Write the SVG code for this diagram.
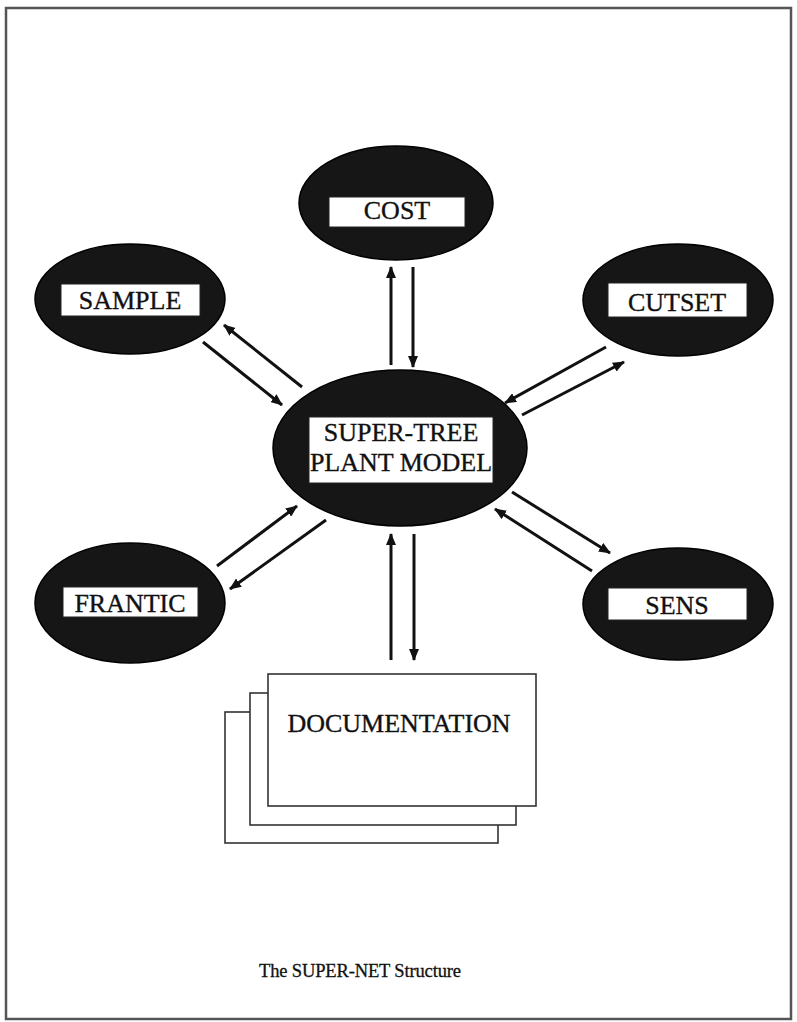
<svg xmlns="http://www.w3.org/2000/svg" width="797" height="1022" viewBox="0 0 797 1022">
  <defs>
    <marker id="head" viewBox="0 0 12 10" refX="11" refY="5" markerWidth="12" markerHeight="10" markerUnits="userSpaceOnUse" orient="auto">
      <path d="M0,0 L12,5 L0,10 Z" fill="#111"/>
    </marker>
    <style>
      .node ellipse { fill: #161616; stroke: #000; stroke-width: 1.5; }
      .label { fill: #fff; stroke: #222; stroke-width: 1; }
      .txt { font-family: "Liberation Serif", "Times New Roman", serif; font-size: 26px; fill: #111; stroke: #111; stroke-width: 0.35; text-anchor: middle; }
      .page { fill: #fff; stroke: #333; stroke-width: 1.6; }
      #connectors line { stroke: #111; stroke-width: 3; marker-end: url(#head); }
    </style>
  </defs>

  <!-- page frame -->
  <rect x="0" y="0" width="797" height="1022" fill="#fff"/>
  <rect x="6" y="8" width="785" height="1011" fill="none" stroke="#555" stroke-width="2.5"/>

  <!-- central model -->
  <g id="super-tree" class="node">
    <ellipse cx="400" cy="448" rx="127" ry="78"/>
    <rect class="label" x="309" y="417" width="184" height="66"/>
    <text class="txt" x="401" y="441">SUPER-TREE</text>
    <text class="txt" x="401" y="471">PLANT MODEL</text>
  </g>

  <g id="cost" class="node">
    <ellipse cx="396" cy="203" rx="97" ry="57"/>
    <rect class="label" x="329" y="197" width="136" height="30"/>
    <text class="txt" x="397" y="219">COST</text>
  </g>

  <g id="sample" class="node">
    <ellipse cx="130" cy="299" rx="95" ry="55"/>
    <rect class="label" x="61" y="284" width="139" height="32"/>
    <text class="txt" x="130" y="309">SAMPLE</text>
  </g>

  <g id="cutset" class="node">
    <ellipse cx="678" cy="300" rx="95" ry="56"/>
    <rect class="label" x="608" y="283" width="139" height="34"/>
    <text class="txt" x="677" y="311">CUTSET</text>
  </g>

  <g id="frantic" class="node">
    <ellipse cx="130" cy="603" rx="95" ry="60"/>
    <rect class="label" x="63" y="587" width="135" height="30"/>
    <text class="txt" x="130" y="612">FRANTIC</text>
  </g>

  <g id="sens" class="node">
    <ellipse cx="678" cy="604" rx="95" ry="56"/>
    <rect class="label" x="608" y="588" width="139" height="32"/>
    <text class="txt" x="677" y="614">SENS</text>
  </g>

  <!-- stacked document pages -->
  <g id="documentation">
    <rect class="page" x="225" y="712" width="273" height="131"/>
    <rect class="page" x="250" y="693" width="266" height="132"/>
    <rect class="page" x="268" y="674" width="268" height="132"/>
    <text class="txt" x="399" y="732" font-size="25">DOCUMENTATION</text>
  </g>

  <!-- paired data-flow arrows -->
  <g id="connectors">
    <line x1="391" y1="365" x2="391" y2="267"/>
    <line x1="413" y1="267" x2="413" y2="367"/>

    <line x1="302" y1="387" x2="224" y2="325"/>
    <line x1="203" y1="342" x2="282" y2="405"/>

    <line x1="606" y1="347" x2="505" y2="403"/>
    <line x1="522" y1="415" x2="624" y2="362"/>

    <line x1="217" y1="566" x2="297" y2="506"/>
    <line x1="326" y1="520" x2="230" y2="589"/>

    <line x1="512" y1="492" x2="610" y2="553"/>
    <line x1="592" y1="571" x2="495" y2="509"/>

    <line x1="391" y1="660" x2="391" y2="534"/>
    <line x1="414" y1="534" x2="414" y2="660"/>
  </g>

  <text x="259" y="977" font-family="Liberation Serif, 'Times New Roman', serif" font-size="18.5" fill="#111" stroke="#111" stroke-width="0.3" textLength="202">The SUPER-NET Structure</text>
</svg>
